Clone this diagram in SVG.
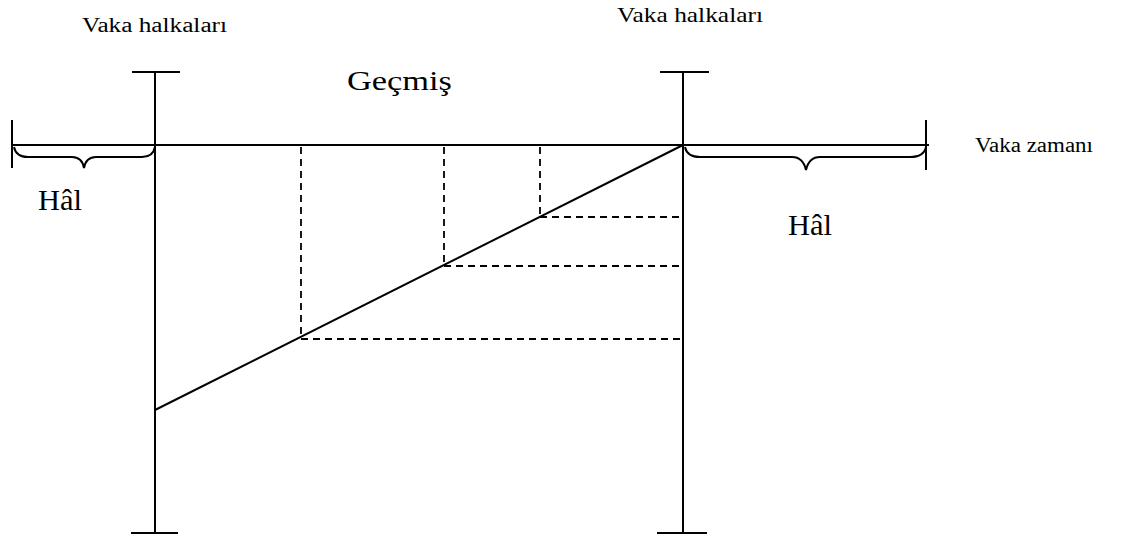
<svg xmlns="http://www.w3.org/2000/svg" width="1123" height="542" viewBox="0 0 1123 542">
<style>
.s{stroke:#000;stroke-width:2;fill:none}
.d{stroke:#000;stroke-width:1.8;fill:none;stroke-dasharray:7,5}
.t{font-family:"Liberation Serif","Times New Roman",serif;fill:#000}
</style>
<rect width="1123" height="542" fill="#fff"/>
<g id="axis-left">
<line class="s" x1="155" y1="72" x2="155" y2="533"/>
<line class="s" x1="132" y1="72" x2="180" y2="72"/>
<line class="s" x1="131" y1="533" x2="178" y2="533"/>
</g>
<g id="axis-right">
<line class="s" x1="683" y1="72" x2="683" y2="533"/>
<line class="s" x1="660" y1="72" x2="709" y2="72"/>
<line class="s" x1="657" y1="533" x2="707" y2="533"/>
</g>
<g id="timeline">
<line class="s" x1="12" y1="145" x2="929" y2="145"/>
<line class="s" x1="12" y1="120" x2="12" y2="168"/>
<line class="s" x1="926" y1="120" x2="926" y2="170"/>
</g>
<g id="braces">
<path class="s" d="M14,147 Q16,157 28,157 L72,157 Q82,157 84,168 Q86,157 96,157 L142,157 Q153,157 155,147"/>
<path class="s" d="M685,147 Q687,157 700,157 L792,157 Q803,157 806,170 Q809,157 820,157 L910,157 Q924,157 926,147"/>
</g>
<g id="connectors">
<line class="s" x1="155" y1="410" x2="683" y2="145"/>
<line class="d" x1="301" y1="147" x2="301" y2="338"/>
<line class="d" x1="444" y1="147" x2="444" y2="266"/>
<line class="d" x1="540" y1="147" x2="540" y2="217"/>
<line class="d" x1="540" y1="217" x2="683" y2="217"/>
<line class="d" x1="444" y1="266" x2="683" y2="266"/>
<line class="d" x1="301" y1="339" x2="683" y2="339"/>
</g>
<g id="labels">
<text class="t" x="82" y="32" font-size="20" textLength="145" lengthAdjust="spacingAndGlyphs">Vaka  halkaları</text>
<text class="t" x="617" y="22" font-size="21" textLength="146" lengthAdjust="spacingAndGlyphs">Vaka  halkaları</text>
<text class="t" x="347" y="90" font-size="28" textLength="105" lengthAdjust="spacingAndGlyphs">Geçmiş</text>
<text class="t" x="38" y="210" font-size="30" textLength="44" lengthAdjust="spacingAndGlyphs">Hâl</text>
<text class="t" x="788" y="235" font-size="30" textLength="44" lengthAdjust="spacingAndGlyphs">Hâl</text>
<text class="t" x="975" y="152" font-size="20" textLength="118" lengthAdjust="spacingAndGlyphs">Vaka zamanı</text>
</g>
</svg>
